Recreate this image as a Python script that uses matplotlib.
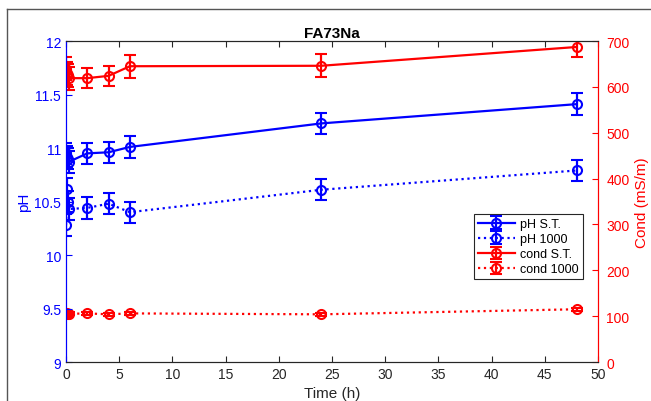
import matplotlib.pyplot as plt
from matplotlib.lines import Line2D

plt.rcParams['font.family'] = ['Liberation Sans', 'DejaVu Sans']

# time points (h)
t = [0, 0.083, 0.167, 0.25, 2, 4, 6, 24, 48]

ph_st = [10.95, 10.92, 10.90, 10.87, 10.95, 10.96, 11.01, 11.23, 11.41]
ph_st_err = [0.1, 0.1, 0.1, 0.1, 0.1, 0.1, 0.1, 0.1, 0.1]
ph_1000 = [10.28, 10.62, 10.50, 10.43, 10.44, 10.48, 10.40, 10.61, 10.79]
ph_1000_err = [0.1, 0.1, 0.1, 0.1, 0.1, 0.1, 0.1, 0.1, 0.1]

cond_st = [640, 630, 625, 619, 619, 624, 645, 646, 687]
cond_st_err = [25, 25, 25, 25, 22, 22, 25, 25, 22]
cond_1000 = [105, 106, 104, 105, 106, 104, 106, 104, 115]
cond_1000_err = [3, 3, 3, 3, 3, 3, 3, 3, 3]

blue = '#0000ff'
red = '#ff0000'

fig = plt.figure(figsize=(6.51, 4.02), dpi=100)
ax = fig.add_axes([0.1014, 0.097, 0.8172, 0.7985])
ax2 = ax.twinx()

kw = dict(marker='o', mfc='none', ms=6.5, mew=1.5, lw=1.6, capsize=4, elinewidth=1.6, capthick=1.6)

h1 = ax.errorbar(t, ph_st, yerr=ph_st_err, color=blue, ls='-', **kw)
h2 = ax.errorbar(t, ph_1000, yerr=ph_1000_err, color=blue, ls=':', **kw)
h3 = ax2.errorbar(t, cond_st, yerr=cond_st_err, color=red, ls='-', **kw)
h4 = ax2.errorbar(t, cond_1000, yerr=cond_1000_err, color=red, ls=':', **kw)

ax.set_xlim(0, 50)
ax.set_ylim(9, 12)
ax2.set_ylim(0, 700)
ax.set_xticks(range(0, 51, 5))
ax.set_yticks([9, 9.5, 10, 10.5, 11, 11.5, 12])
ax.set_yticklabels(['9', '9.5', '10', '10.5', '11', '11.5', '12'])
ax2.set_yticks(range(0, 701, 100))

ax.tick_params(axis='x', direction='in', top=True, colors='#262626', labelsize=10, length=4)
ax.tick_params(axis='y', direction='in', colors=blue, labelsize=10, length=4)
ax2.tick_params(axis='y', direction='in', colors=red, labelsize=10, length=4, pad=6)

for a in (ax, ax2):
    a.spines['top'].set_color('#262626')
    a.spines['bottom'].set_color('#262626')
    a.spines['left'].set_color(blue)
    a.spines['right'].set_color(red)
    for s in a.spines.values():
        s.set_linewidth(0.8)

ax.set_xlabel('Time (h)', fontsize=11, color='#262626', labelpad=4)
ax.set_ylabel('pH', fontsize=11, color=blue, labelpad=2)
ax2.set_ylabel('Cond (mS/m)', fontsize=11, color=red, labelpad=4)
ax.set_title('FA73Na', fontsize=11, fontweight='bold', pad=3)

leg = ax.legend([h1, h2, h3, h4], ['pH S.T.', 'pH 1000', 'cond S.T.', 'cond 1000'],
                loc='upper left', bbox_to_anchor=(0.755, 0.48), fontsize=9,
                fancybox=False, framealpha=1, edgecolor='#262626',
                handlelength=3.0, borderpad=0.3, labelspacing=0.25, handletextpad=0.4)
leg.get_frame().set_linewidth(0.8)
leg.set_zorder(5)
ax.set_zorder(ax2.get_zorder() + 1)
ax.patch.set_visible(False)

# screenshot frame border
fig.add_artist(Line2D([0.011, 1], [0.975, 0.975], color='#555555', lw=1))
fig.add_artist(Line2D([0.011, 0.011], [0, 0.975], color='#555555', lw=1))

fig.savefig('out.png', dpi=100)
